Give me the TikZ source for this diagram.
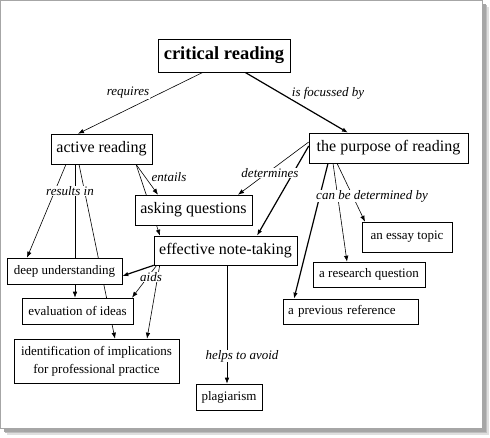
\documentclass[tikz,border=0pt]{standalone}
\usepackage{fontspec}
\setmainfont{Liberation Serif}
\usetikzlibrary{arrows.meta}
\pgfdeclarelayer{background}
\pgfsetlayers{background,main}

\begin{document}
\begin{tikzpicture}[
		x = 1pt, y = -1pt,
		concept/.style = {draw, fill = white, inner sep = 2pt, line width = .6pt, minimum height = 26pt, font = \fontsize{13}{15}\selectfont},
		bigconcept/.style = {concept, minimum height = 30pt, font = \fontsize{16}{18}\selectfont},
		linkword/.style = {fill = white, inner sep = .5pt, font = \fontsize{13}{15}\selectfont\itshape},
		link/.style = {-{Latex[length = 6pt, width = 4.5pt]}, line width = .6pt},
		boldlink/.style = {link, line width = 1.2pt}
		]
		\useasboundingbox (0,0) rectangle (490,437);
		% Concepts
		\node[bigconcept, minimum width = 132pt, minimum height = 33pt, font = \fontsize{18.5}{20}\selectfont\bfseries] (critical) at (224,55.5) {critical reading};
		\node[bigconcept, minimum width = 101pt] (active) at (101.5,149) {active reading};
		\node[bigconcept, minimum width = 159pt] (purpose) at (388.5,148) {the purpose of reading};
		\node[bigconcept, minimum width = 117pt] (asking) at (193.5,210) {asking questions};
		\node[bigconcept, minimum width = 143pt, minimum height = 29pt] (notes) at (225.5,250.5) {effective note-taking};
		\node[concept, minimum width = 115pt] (deep) at (64.5,271) {deep understanding};
		\node[concept, minimum width = 111pt] (evaluation) at (77.5,311) {evaluation of ideas};
		\node[concept, minimum width = 165pt, minimum height = 44pt, align = center, font = \fontsize{13}{18}\selectfont] (implications) at (96.5,361) {identification of implications\\for professional practice};
		\node[concept, minimum width = 66pt] (plagiarism) at (229,397) {plagiarism};
		\node[concept, minimum width = 90pt, minimum height = 30pt] (essay) at (407,237) {an essay topic};
		\node[concept, minimum width = 112pt, minimum height = 25pt] (question) at (369,274.5) {a research question};
		\node[concept, inner xsep = 5pt, text width = 125pt, align = left, minimum height = 25pt] (previous) at (350.5,311.5) {a previous reference};
		% Linking words
		\node[linkword] (requires) at (128,93) {requires};
		\node[linkword] (focussed) at (328,93) {is focussed by};
		\node[linkword] (entails) at (169,177) {entails};
		\node[linkword] (results) at (70,191) {results in};
		\node[linkword] (determines) at (270,173) {determines};
		\node[linkword] (canbe) at (372,196) {can be determined by};
		\node[linkword] (aids) at (151,277) {aids};
		\node[linkword] (avoid) at (242,356) {helps to avoid};
		\begin{pgfonlayer}{background}
			% Frame with shadow
			\foreach \d/\shade in {7/25, 5/50, 4/70}
				\fill[gray!\shade] (\d,\d) rectangle (482+\d,428+\d);
			\draw[gray!70, fill = white, line width = .6pt] (0,0) rectangle (482,428);
			% Links
			\draw[link] ([xshift=-21pt]critical.south) -- ([xshift=-23.5pt]active.north);
			\draw[boldlink] ([xshift=21pt]critical.south) -- ([xshift=-40.5pt]purpose.north);
			\draw[link] ([xshift=34.5pt]active.south) -- ([xshift=-35.5pt]asking.north);
			\draw[link] ([xshift=34.5pt]active.south) -- ([xshift=-65.5pt]notes.north);
			\draw[link] ([xshift=-35.5pt]active.south) -- ([xshift=-37.5pt]deep.north);
			\draw[link] ([xshift=-26.5pt]active.south) -- ([xshift=-2.5pt]evaluation.north);
			\draw[link] ([xshift=-22.5pt]active.south) -- ([xshift=18.5pt]implications.north);
			\draw[link] ([yshift=6pt]purpose.west) -- ([xshift=44.5pt]asking.north);
			\draw[boldlink] ([yshift=2pt]purpose.west) -- ([xshift=31.5pt]notes.north);
			\draw[boldlink] ([xshift=-60.5pt]purpose.south) -- ([xshift=-56.5pt]previous.north);
			\draw[link] ([xshift=-55.5pt]purpose.south) -- ([xshift=-22pt]question.north);
			\draw[link] ([xshift=-51.5pt]purpose.south) -- ([xshift=-42pt]essay.north);
			\draw[boldlink] (notes.south west) -- ([yshift=-5pt]deep.east);
			\draw[link] ([xshift=3pt]notes.south west) -- ([xshift=54.5pt]evaluation.north);
			\draw[link] ([xshift=6pt]notes.south west) -- ([xshift=50.5pt]implications.north);
			\draw[link] ([xshift=1.5pt]notes.south) -- ([xshift=-2pt]plagiarism.north);
		\end{pgfonlayer}
	\end{tikzpicture}
\end{document}
